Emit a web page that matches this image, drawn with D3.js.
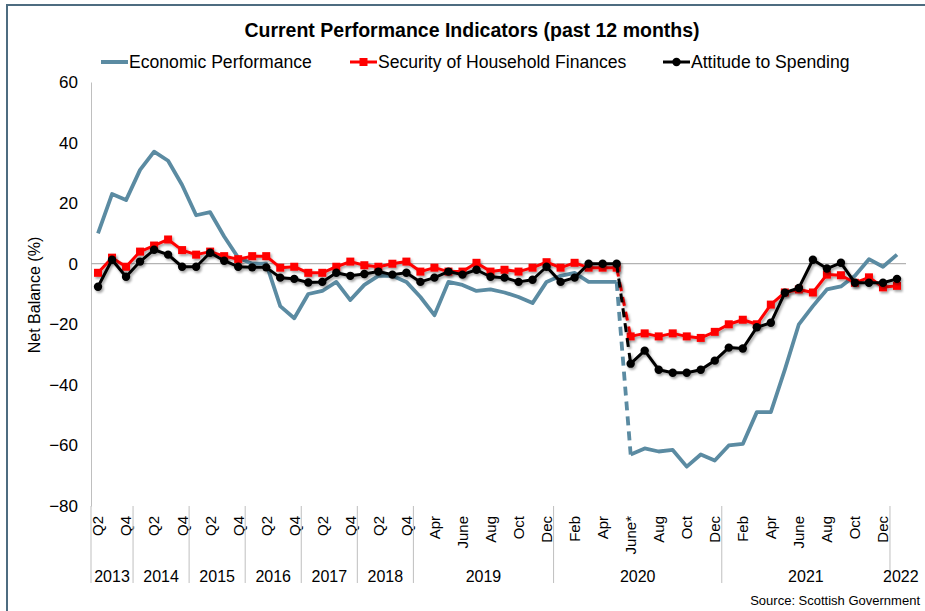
<!DOCTYPE html>
<html>
<head>
<meta charset="utf-8">
<script src="https://cdn.jsdelivr.net/npm/d3@7"></script>
<style>
  body { margin: 0; background: #fff; }
  svg { display: block; font-family: "Liberation Sans", Arial, sans-serif; }
</style>
</head>
<body>
<div id="chart"></div>
<script>
const ancho = 925;
const alto = 611;
const margen = {
  superior: 82,
  inferior: 105,
  izquierdo: 91,
  derecho: 21,
};

// ------------------------ datos -----------------------
// category labels (every other one is shown, like Excel does)
const categorias = [
  "Q2", "Q3", "Q4",
  "Q1", "Q2", "Q3", "Q4",
  "Q1", "Q2", "Q3", "Q4",
  "Q1", "Q2", "Q3", "Q4",
  "Q1", "Q2", "Q3", "Q4",
  "Q1", "Q2", "Q3", "Q4",
  "Mar", "Apr", "May", "June", "Jul", "Aug", "Sep", "Oct", "Nov", "Dec",
  "Jan", "Feb", "Mar", "Apr", "May", "June*", "Jul", "Aug", "Sep", "Oct", "Nov", "Dec",
  "Jan", "Feb", "Mar", "Apr", "May", "June", "Jul", "Aug", "Sep", "Oct", "Nov", "Dec",
  "Jan",
];
const anios = ["2013", "2014", "2015", "2016", "2017", "2018", "2019", "2020", "2021", "2022"];
const puntosPorAnio = [3, 4, 4, 4, 4, 4, 10, 12, 12, 1];

const economicPerformance = [
  10, 23, 21,
  31, 37, 34, 26,
  16, 17, 9, 2,
  0, 0, -14, -18,
  -10, -9, -6, -12,
  -7, -4, -4, -6,
  -11, -17, -6, -7, -9, -8.5, -9.5, -11, -13, -6,
  -4, -3, -6, -6, -6, -63, -61, -62, -61.5, -67, -63, -65,
  -60, -59.5, -49, -49, -35, -20, -14, -8.5, -7.5, -4, 1.5, -1,
  3,
];
const householdFinances = [
  -3, 2, -1,
  4, 6, 8, 4.5,
  3, 4, 2.5, 1.5,
  2.5, 2.5, -1.3, -1,
  -3, -3, -1, 0.7,
  -0.5, -1, 0, 0.7,
  -2.6, -1.3, -2.6, -2.6, 0.3, -2.6, -2, -2.6, -1.3, 0.5,
  -1.3, 0.3, -1.3, -1.3, -1.3, -24, -23, -24, -23, -24, -24.5, -22.5,
  -20, -18.5, -20, -13.5, -9.5, -8.5, -9.5, -3.6, -3.8, -6.3, -4.5, -7.8,
  -7.3,
];
const attitudeSpending = [
  -7.6, 1.3, -4.3,
  0.7, 4.6, 3, -1,
  -1, 3.6, 1, -1,
  -1.2, -1.2, -4.6, -5,
  -6.2, -6, -3, -4,
  -3.4, -2.6, -3.6, -3,
  -6, -4.6, -2.6, -3.6, -2, -4.3, -4.6, -6, -5.3, -1,
  -6, -4.6, 0, 0, 0, -33, -28.7, -35, -36, -36, -35, -32,
  -27.7, -28, -21, -19.5, -9.6, -8, 1.3, -1.6, 0.3, -6.3, -6.3, -6.3,
  -5,
];
const yTicks = [60, 40, 20, 0, -20, -40, -60, -80];
// last point before the break in the survey (May 2020), joined by a dashed line
const corte = 37;

const series = [
  { nombre: "Economic Performance", valores: economicPerformance, color: "#5b8ba2", marcador: null },
  { nombre: "Security of Household Finances", valores: householdFinances, color: "#ff0000", marcador: "square" },
  { nombre: "Attitude to Spending", valores: attitudeSpending, color: "#000000", marcador: "circle" },
];

// --------------------------------------- svg --------------------------
const svg = d3
  .select("#chart")
  .append("svg")
  .attr("width", ancho)
  .attr("height", alto);

const defs = svg.append("defs");
const sombra = defs
  .append("filter")
  .attr("id", "sombra")
  .attr("x", "-10%")
  .attr("y", "-10%")
  .attr("width", "130%")
  .attr("height", "140%");
sombra
  .append("feDropShadow")
  .attr("dx", 1.5)
  .attr("dy", 2)
  .attr("stdDeviation", 1.3)
  .attr("flood-color", "#000")
  .attr("flood-opacity", 0.35);

// frame of the chart
svg
  .append("rect")
  .attr("x", 7)
  .attr("y", 5)
  .attr("width", 960)
  .attr("height", 700)
  .attr("fill", "none")
  .attr("stroke", "#4d6c80")
  .attr("stroke-width", 2);

// escalas:
const indices = d3.range(categorias.length);
const x = d3
  .scaleBand()
  .domain(indices)
  .range([margen.izquierdo, ancho - margen.derecho])
  .padding(0);
const y = d3
  .scaleLinear()
  .domain([-80, 60])
  .range([alto - margen.inferior, margen.superior]);
const cx = (i) => x(i) + x.bandwidth() / 2;

// eje Y
const grupoY = svg
  .append("g")
  .attr("transform", `translate(${margen.izquierdo},0)`)
  .call(d3.axisLeft(y).tickValues(yTicks).tickSize(0).tickPadding(13));
grupoY.select(".domain").attr("stroke", "#bfbfbf").attr("stroke-width", 1);
grupoY
  .selectAll("text")
  .attr("font-size", 17)
  .attr("font-family", "Liberation Sans, Arial, sans-serif")
  .attr("fill", "#000");

// zero line
svg
  .append("line")
  .attr("x1", margen.izquierdo)
  .attr("x2", ancho - margen.derecho + 2)
  .attr("y1", y(0))
  .attr("y2", y(0))
  .attr("stroke", "#b3b3b3")
  .attr("stroke-width", 1.2);

// eje X (every other label, rotated)
const grupoX = svg
  .append("g")
  .attr("transform", `translate(0,${y(-80)})`)
  .call(
    d3
      .axisBottom(x)
      .tickValues(indices.filter((i) => i % 2 === 0))
      .tickFormat((i) => categorias[i])
      .tickSize(0)
  );
grupoX.select(".domain").remove();
grupoX
  .selectAll("text")
  .attr("font-size", 15)
  .attr("font-family", "Liberation Sans, Arial, sans-serif")
  .attr("fill", "#000")
  .attr("text-anchor", "end")
  .attr("transform", "rotate(-90)")
  .attr("x", -10)
  .attr("y", 0)
  .attr("dy", "0.36em");

// year groups
let acumulado = 0;
const grupos = anios.map((a, k) => {
  const g = { anio: a, inicio: acumulado, fin: acumulado + puntosPorAnio[k] - 1 };
  acumulado += puntosPorAnio[k];
  return g;
});
const yBase = y(-80);
svg
  .append("g")
  .selectAll("line")
  .data(grupos)
  .join("line")
  .attr("x1", (d) => x(d.inicio))
  .attr("x2", (d) => x(d.inicio))
  .attr("y1", yBase)
  .attr("y2", yBase + 77)
  .attr("stroke", "#bfbfbf")
  .attr("stroke-width", 1);
svg
  .append("g")
  .selectAll("text")
  .data(grupos)
  .join("text")
  .attr("x", (d) => (x(d.inicio) + x(d.fin) + x.bandwidth()) / 2)
  .attr("y", yBase + 76)
  .attr("text-anchor", (d) => (d.anio === "2022" ? "start" : "middle"))
  .attr("dx", (d) => (d.anio === "2022" ? -14 : 0))
  .attr("font-size", 16)
  .attr("fill", "#000")
  .text((d) => d.anio);

// Lineas ---
const linea = d3
  .line()
  .x((d) => cx(d.i))
  .y((d) => y(d.v));

series.forEach((s) => {
  const puntos = s.valores.map((v, i) => ({ i: i, v: v }));
  const g = svg
    .append("g")
    .attr("filter", s.marcador ? "url(#sombra)" : null);
  const ancho_linea = s.marcador ? 3 : 3.8;
  g.append("path")
    .datum(puntos.slice(0, corte + 1))
    .attr("fill", "none")
    .attr("stroke", s.color)
    .attr("stroke-width", ancho_linea)
    .attr("stroke-linejoin", "round")
    .attr("d", linea);
  g.append("path")
    .datum(puntos.slice(corte, corte + 2))
    .attr("fill", "none")
    .attr("stroke", s.color)
    .attr("stroke-width", ancho_linea)
    .attr("stroke-dasharray", "9,6")
    .attr("d", linea);
  g.append("path")
    .datum(puntos.slice(corte + 1))
    .attr("fill", "none")
    .attr("stroke", s.color)
    .attr("stroke-width", ancho_linea)
    .attr("stroke-linejoin", "round")
    .attr("d", linea);

  if (s.marcador === "square") {
    g.selectAll("rect")
      .data(puntos)
      .join("rect")
      .attr("x", (d) => cx(d.i) - 4)
      .attr("y", (d) => y(d.v) - 4)
      .attr("width", 8)
      .attr("height", 8)
      .attr("fill", s.color);
  } else if (s.marcador === "circle") {
    g.selectAll("circle")
      .data(puntos)
      .join("circle")
      .attr("cx", (d) => cx(d.i))
      .attr("cy", (d) => y(d.v))
      .attr("r", 4.2)
      .attr("fill", s.color);
  }
});

// titulo
svg
  .append("text")
  .attr("x", 472)
  .attr("y", 37)
  .attr("text-anchor", "middle")
  .attr("font-size", 19.5)
  .attr("font-weight", "bold")
  .attr("fill", "#000")
  .text("Current Performance Indicators (past 12 months)");

// leyenda
const leyendaX = [101, 350, 663];
const leyenda = svg
  .append("g")
  .selectAll("g")
  .data(series)
  .join("g")
  .attr("transform", (d, k) => `translate(${leyendaX[k]},62)`);
leyenda
  .append("line")
  .attr("x1", 0)
  .attr("x2", 27)
  .attr("stroke", (d) => d.color)
  .attr("stroke-width", (d) => (d.marcador ? 3 : 4));
leyenda
  .filter((d) => d.marcador === "square")
  .append("rect")
  .attr("x", 9.5)
  .attr("y", -4)
  .attr("width", 8)
  .attr("height", 8)
  .attr("fill", (d) => d.color);
leyenda
  .filter((d) => d.marcador === "circle")
  .append("circle")
  .attr("cx", 13.5)
  .attr("r", 4.2)
  .attr("fill", (d) => d.color);
leyenda
  .append("text")
  .attr("x", 28)
  .attr("y", 6)
  .attr("font-size", 17.6)
  .attr("fill", "#000")
  .text((d) => d.nombre);

// y axis title
svg
  .append("text")
  .attr("transform", "translate(40,295) rotate(-90)")
  .attr("text-anchor", "middle")
  .attr("font-size", 16)
  .attr("fill", "#000")
  .text("Net Balance (%)");

// source
svg
  .append("text")
  .attr("x", 920)
  .attr("y", 605)
  .attr("text-anchor", "end")
  .attr("font-size", 13)
  .attr("fill", "#000")
  .text("Source: Scottish Government");
</script>
</body>
</html>
